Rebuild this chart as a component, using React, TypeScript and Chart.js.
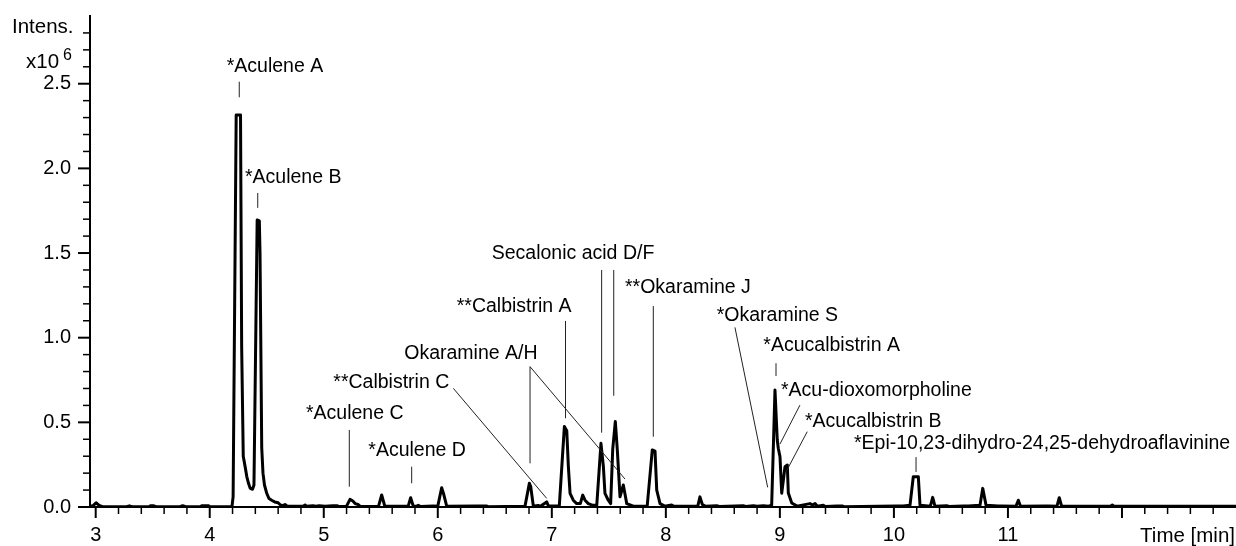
import { useEffect, useRef } from 'react';
import { Chart, registerables } from 'chart.js';

Chart.register(...registerables);

// Retention time (min) and intensity (x10^6) of the chromatogram trace
const retentionTimes = [
  2.95, 2.98, 3.003, 3.03, 3.06, 3.27, 3.295, 3.32, 3.47, 3.48, 3.51, 3.53, 3.74, 3.763, 3.79, 3.92, 3.93, 3.99, 4.0,
  4.195, 4.205, 4.232, 4.27, 4.28, 4.294, 4.31, 4.325, 4.34, 4.355, 4.375, 4.388, 4.416, 4.435, 4.441, 4.456, 4.467,
  4.48, 4.5, 4.52, 4.543, 4.57, 4.6, 4.62, 4.64, 4.66, 4.68, 4.82, 4.836, 4.85, 4.906, 4.93, 4.96, 5.011, 5.08, 5.12,
  5.13, 5.2, 5.23, 5.255, 5.275, 5.3, 5.32, 5.48, 5.508, 5.535, 5.74, 5.762, 5.785, 5.81, 5.829, 5.85, 5.961, 6.0,
  6.034, 6.05, 6.078, 6.34, 6.43, 6.44, 6.765, 6.803, 6.815, 6.838, 6.881, 6.9, 6.955, 6.97, 7.05, 7.066, 7.11, 7.131,
  7.145, 7.16, 7.188, 7.218, 7.25, 7.271, 7.291, 7.32, 7.36, 7.394, 7.431, 7.452, 7.466, 7.495, 7.516, 7.534, 7.557,
  7.574, 7.598, 7.627, 7.657, 7.715, 7.83, 7.837, 7.881, 7.905, 7.92, 7.949, 7.99, 8.051, 8.07, 8.28, 8.299, 8.32,
  8.35, 8.446, 8.47, 8.679, 8.7, 8.767, 8.8, 8.855, 8.9, 8.928, 8.957, 8.977, 8.986, 9.001, 9.016, 9.045, 9.065,
  9.074, 9.104, 9.15, 9.264, 9.285, 9.308, 9.33, 9.381, 9.4, 9.5, 9.55, 9.56, 10.02, 10.08, 10.141, 10.17, 10.214,
  10.229, 10.32, 10.34, 10.36, 10.463, 10.48, 10.608, 10.652, 10.755, 10.779, 10.808, 10.915, 10.945, 11.07, 11.091,
  11.11, 11.325, 11.354, 11.43, 11.45, 11.47, 11.6, 11.9, 11.915, 11.93, 13.0,
];
const intensities = [
  0.003, 0.01, 0.025, 0.01, 0.002, 0.002, 0.007, 0.002, 0.002, 0.007, 0.007, 0.002, 0.002, 0.008, 0.002, 0.002, 0.007, 0.007, 0.002,
  0.003, 0.06, 2.315, 2.315, 0.95, 0.3, 0.24, 0.18, 0.14, 0.11, 0.105, 0.13, 1.695, 1.69, 1.5, 0.35, 0.2,
  0.13, 0.08, 0.05, 0.04, 0.03, 0.025, 0.012, 0.008, 0.015, 0.005, 0.004, 0.012, 0.004, 0.007, 0.004, 0.007, 0.004, 0.007, 0.007,
  0.003, 0.005, 0.045, 0.035, 0.02, 0.015, 0.003, 0.004, 0.071, 0.005, 0.004, 0.055, 0.005, 0.004, 0.01, 0.003, 0.006, 0.005,
  0.114, 0.08, 0.005, 0.006, 0.006, 0.002, 0.005, 0.14, 0.12, 0.005, 0.009, 0.004, 0.03, 0.006, 0.006, 0.01, 0.475, 0.45,
  0.24, 0.08, 0.04, 0.02, 0.02, 0.07, 0.04, 0.02, 0.01, 0.01, 0.376, 0.24, 0.08, 0.04, 0.02, 0.34, 0.505,
  0.34, 0.06, 0.13, 0.02, 0.005, 0.005, 0.01, 0.337, 0.33, 0.1, 0.02, 0.005, 0.012, 0.004, 0.005, 0.06, 0.015,
  0.004, 0.007, 0.003, 0.007, 0.003, 0.008, 0.004, 0.008, 0.005, 0.01, 0.691, 0.396, 0.347, 0.297, 0.081, 0.238, 0.248,
  0.083, 0.024, 0.005, 0.02, 0.012, 0.02, 0.004, 0.01, 0.003, 0.006, 0.006, 0.002, 0.006, 0.006, 0.01, 0.179, 0.179,
  0.01, 0.005, 0.057, 0.005, 0.008, 0.003, 0.006, 0.006, 0.01, 0.11, 0.01, 0.006, 0.006, 0.004, 0.04,
  0.005, 0.006, 0.006, 0.005, 0.055, 0.006, 0.005, 0.005, 0.012, 0.005, 0.005,
];

// Axis ranges and tick labels
const timeRange = [2.95, 13.0];
const intensityRange = [0, 2.9];
const timeTickLabels = ['3', '4', '5', '6', '7', '8', '9', '10', '11'];
const intensityTickLabels = ['0.0', '0.5', '1.0', '1.5', '2.0', '2.5'];

// Peak annotations: name, text anchor (time, intensity)
const peakNames = [
  '*Aculene A', '*Aculene B', '**Calbistrin A', 'Okaramine A/H', '**Calbistrin C', '*Aculene C', '*Aculene D',
  'Secalonic acid D/F', '**Okaramine J', '*Okaramine S', '*Acucalbistrin A', '*Acu-dioxomorpholine',
  '*Acucalbistrin B', '*Epi-10,23-dihydro-24,25-dehydroaflavinine',
];
const labelTimes = [4.149, 4.309, 6.166, 5.706, 5.084, 4.844, 5.391, 6.473, 7.642, 8.446, 8.855, 9.01, 9.22, 9.65];
const labelIntensities = [2.567, 1.912, 1.153, 0.872, 0.705, 0.518, 0.303, 1.463, 1.262, 1.1, 0.923, 0.656, 0.474, 0.341];
// Leader lines: [time1, intensity1, time2, intensity2]
const leaderLines = [
  [4.259, 2.512, 4.259, 2.42],
  [4.421, 1.855, 4.421, 1.767],
  [7.12, 1.099, 7.12, 0.524],
  [6.809, 0.829, 6.809, 0.258],
  [6.809, 0.829, 7.642, 0.165],
  [6.136, 0.701, 6.955, 0.051],
  [5.224, 0.455, 5.224, 0.12],
  [5.771, 0.238, 5.771, 0.14],
  [7.437, 1.4, 7.437, 0.439],
  [7.543, 1.4, 7.543, 0.657],
  [7.89, 1.187, 7.89, 0.415],
  [8.606, 1.061, 8.893, 0.116],
  [8.966, 0.849, 8.966, 0.774],
  [9.176, 0.602, 9.001, 0.372],
  [9.24, 0.445, 9.054, 0.208],
  [10.194, 0.295, 10.194, 0.207],
];

const FONT = '"Liberation Sans", Arial, Helvetica, sans-serif';

const near = (a: number, b: number) => Math.abs(a - b) < 1e-6;

const decorPlugin = {
  id: 'decor',
  afterDraw(chart: any) {
    const { ctx, chartArea } = chart;
    const xs = chart.scales.x;
    const ys = chart.scales.y;
    ctx.save();
    ctx.strokeStyle = '#000';
    // x tick marks
    xs.ticks.forEach((t: any) => {
      const major = near(t.value, Math.round(t.value));
      const px = xs.getPixelForValue(t.value);
      ctx.lineWidth = major ? 2 : 1.5;
      ctx.beginPath();
      ctx.moveTo(px, chartArea.bottom);
      ctx.lineTo(px, chartArea.bottom + (major ? 11 : 7));
      ctx.stroke();
    });
    // y tick marks
    ys.ticks.forEach((t: any) => {
      const major = near(t.value * 2, Math.round(t.value * 2));
      const py = ys.getPixelForValue(t.value);
      ctx.lineWidth = major ? 2 : 1.5;
      ctx.beginPath();
      ctx.moveTo(chartArea.left - (major ? 12 : 7), py);
      ctx.lineTo(chartArea.left, py);
      ctx.stroke();
    });
    // leader lines
    ctx.lineWidth = 1;
    ctx.strokeStyle = '#222';
    leaderLines.forEach(([t1, v1, t2, v2]) => {
      ctx.beginPath();
      ctx.moveTo(xs.getPixelForValue(t1), ys.getPixelForValue(v1));
      ctx.lineTo(xs.getPixelForValue(t2), ys.getPixelForValue(v2));
      ctx.stroke();
    });
    // annotation text
    ctx.fillStyle = '#000';
    ctx.font = `19.5px ${FONT}`;
    ctx.textAlign = 'left';
    ctx.textBaseline = 'alphabetic';
    peakNames.forEach((name, i) => {
      ctx.fillText(name, xs.getPixelForValue(labelTimes[i]), ys.getPixelForValue(labelIntensities[i]));
    });
    // axis titles
    ctx.font = `20.5px ${FONT}`;
    ctx.fillText('Intens.', 12, 33);
    ctx.fillText('x10', 26, 68);
    ctx.font = `16px ${FONT}`;
    ctx.fillText('6', 63, 60);
    ctx.font = `20.5px ${FONT}`;
    ctx.textAlign = 'right';
    ctx.fillText('Time [min]', chart.width - 1, 542);
    ctx.restore();
  },
};

export default function App() {
  const canvasRef = useRef<HTMLCanvasElement | null>(null);

  useEffect(() => {
    if (!canvasRef.current) return;
    const points = retentionTimes.map((t, i) => ({ x: t, y: intensities[i] }));
    const chart = new Chart(canvasRef.current, {
      type: 'line',
      data: {
        datasets: [
          {
            data: points,
            borderColor: '#000',
            borderWidth: 3,
            pointRadius: 0,
            tension: 0,
            fill: false,
            borderJoinStyle: 'round',
          },
        ],
      },
      options: {
        animation: false,
        responsive: false,
        devicePixelRatio: 1,
        layout: { padding: { top: 16, right: 0, left: 0, bottom: 0 } },
        plugins: { legend: { display: false }, tooltip: { enabled: false } },
        scales: {
          x: {
            type: 'linear',
            min: timeRange[0],
            max: timeRange[1],
            afterFit: (s: any) => {
              s.height = 39;
              s.paddingLeft = 0;
              s.paddingRight = 0;
            },
            afterBuildTicks: (s: any) => {
              const ticks = [];
              for (let i = 15; i <= 64; i++) ticks.push({ value: i / 5 });
              s.ticks = ticks;
            },
            grid: { display: false, drawTicks: false },
            border: { display: true, color: '#000', width: 2 },
            ticks: {
              autoSkip: false,
              maxRotation: 0,
              padding: 16,
              color: '#000',
              font: { family: FONT, size: 20 },
              callback: (v: any) => {
                const n = Number(v);
                if (!near(n, Math.round(n))) return '';
                const idx = Math.round(n) - 3;
                return timeTickLabels[idx] ?? '';
              },
            },
          },
          y: {
            type: 'linear',
            min: intensityRange[0],
            max: intensityRange[1],
            afterFit: (s: any) => {
              s.width = 90;
              s.paddingTop = 0;
              s.paddingBottom = 0;
            },
            afterBuildTicks: (s: any) => {
              const ticks = [];
              for (let i = 0; i <= 28; i++) ticks.push({ value: i / 10 });
              s.ticks = ticks;
            },
            grid: { display: false, drawTicks: false },
            border: { display: true, color: '#000', width: 2 },
            ticks: {
              autoSkip: false,
              padding: 19,
              color: '#000',
              font: { family: FONT, size: 20 },
              callback: (v: any) => {
                const n = Number(v);
                if (!near(n * 2, Math.round(n * 2))) return '';
                return intensityTickLabels[Math.round(n * 2)] ?? '';
              },
            },
          },
        },
      },
      plugins: [decorPlugin],
    });
    return () => chart.destroy();
  }, []);

  return (
    <div style={{ position: 'fixed', left: 0, top: 0, width: 1236, height: 546, background: '#fff' }}>
      <canvas ref={canvasRef} width={1236} height={546} style={{ display: 'block' }} />
    </div>
  );
}
